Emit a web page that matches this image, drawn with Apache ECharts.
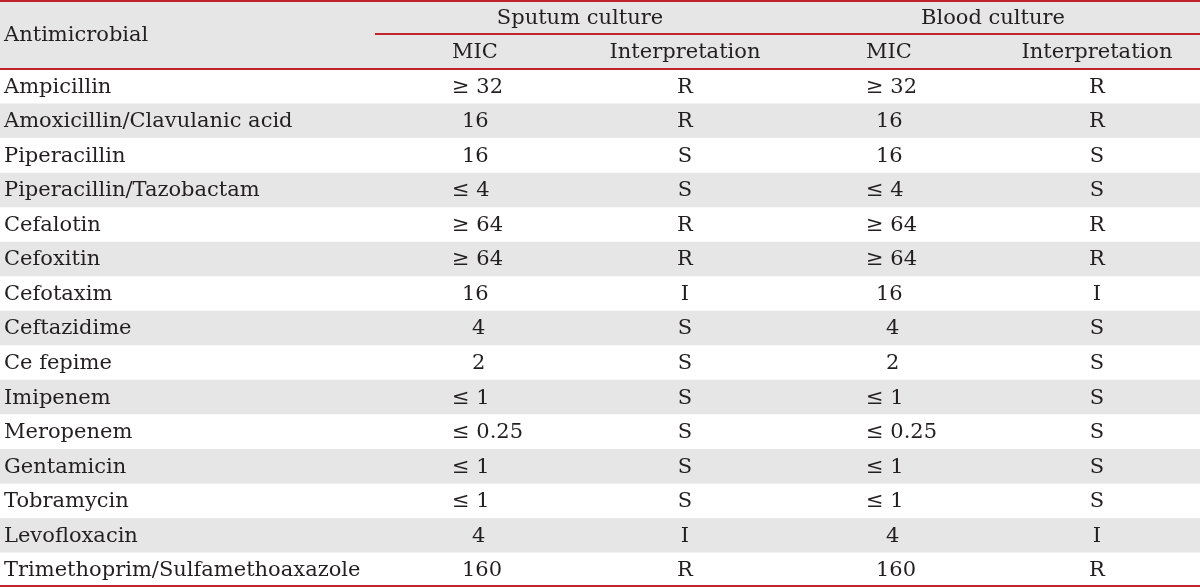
<!DOCTYPE html>
<html><head><meta charset="utf-8">
<script src="https://cdn.jsdelivr.net/npm/echarts@6/dist/echarts.min.js"></script>
<style>html,body{margin:0;padding:0;background:#fff}#c{width:1200px;height:587px}</style>
</head><body><div id="c"></div>
<script>
// ---- data ----
const firstHeader = 'Antimicrobial';
const groupHeaders = ['Sputum culture', 'Blood culture'];
const subHeaders = ['MIC', 'Interpretation'];
const antimicrobials = ['Ampicillin', 'Amoxicillin/Clavulanic acid', 'Piperacillin', 'Piperacillin/Tazobactam',
  'Cefalotin', 'Cefoxitin', 'Cefotaxim', 'Ceftazidime', 'Ce fepime', 'Imipenem', 'Meropenem',
  'Gentamicin', 'Tobramycin', 'Levofloxacin', 'Trimethoprim/Sulfamethoaxazole'];
const sputumMIC = ['≥ 32', '16', '16', '≤ 4', '≥ 64', '≥ 64', '16', '4', '2', '≤ 1', '≤ 0.25', '≤ 1', '≤ 1', '4', '160'];
const sputumInterp = ['R', 'R', 'S', 'S', 'R', 'R', 'I', 'S', 'S', 'S', 'S', 'S', 'S', 'I', 'R'];
const bloodMIC = ['≥ 32', '16', '16', '≤ 4', '≥ 64', '≥ 64', '16', '4', '2', '≤ 1', '≤ 0.25', '≤ 1', '≤ 1', '4', '160'];
const bloodInterp = ['R', 'R', 'S', 'S', 'R', 'R', 'I', 'S', 'S', 'S', 'S', 'S', 'S', 'I', 'R'];

// ---- styling / layout ----
const HDR = ['__hdrTop', '__hdrSub'];
const rowKeys = HDR.concat(antimicrobials);
const GREY = '#e6e6e6';
const RED = '#c0232c';
const INK = '#231f20';
const FONT = '21px "DejaVu Serif"';
const COL = { name: 4, mic1: 452, int1: 685, mic2: 866, int2: 1097, grp1: 580, grp2: 993, split: 375 };

function txt(x, y, s, align) {
  return { type: 'text', style: { text: s, x: x, y: y + 1, textAlign: align, textVerticalAlign: 'middle', font: FONT, fill: INK } };
}
function micX(base, s) {
  if (/^[≥≤]/.test(s)) return base;
  return s.length === 1 ? base + 20 : base + 10;
}
function hline(x1, x2, y) {
  y = Math.round(y);
  return { type: 'line', shape: { x1: x1, y1: y, x2: x2, y2: y }, style: { stroke: RED, lineWidth: 2 } };
}

function renderHeader(params, api) {
  const X = v => api.coord([v, HDR[0]])[0];
  const c0 = api.coord([0, HDR[0]]), c1 = api.coord([0, HDR[1]]);
  const h = api.size([0, 1])[1];
  const top = c0[1] - h / 2, mid = c0[1] + h / 2, bot = c1[1] + h / 2;
  const L = X(0), R = X(1200);
  return {
    type: 'group', children: [
      { type: 'rect', shape: { x: L, y: top, width: R - L, height: bot - top }, style: { fill: GREY } },
      txt(X(COL.name), (top + bot) / 2, firstHeader, 'left'),
      txt(X(COL.grp1), c0[1], groupHeaders[0], 'center'),
      txt(X(COL.grp2), c0[1], groupHeaders[1], 'center'),
      txt(X(COL.mic1), c1[1], subHeaders[0], 'left'),
      txt(X(COL.int1), c1[1], subHeaders[1], 'center'),
      txt(X(COL.mic2), c1[1], subHeaders[0], 'left'),
      txt(X(COL.int2), c1[1], subHeaders[1], 'center'),
      hline(L, R, top + 1),
      hline(X(COL.split), R, mid - 0.5),
      hline(L, R, bot)
    ]
  };
}

function renderBody(params, api) {
  const i = params.dataIndex;
  const key = antimicrobials[i];
  const X = v => api.coord([v, key])[0];
  const c = api.coord([0, key]);
  const h = api.size([0, 1])[1];
  const L = X(0), R = X(1200);
  const top = c[1] - h / 2;
  const ch = [];
  if (i % 2 === 1) ch.push({ type: 'rect', shape: { x: L, y: top, width: R - L, height: h }, style: { fill: GREY } });
  ch.push(txt(X(COL.name), c[1], antimicrobials[i], 'left'));
  ch.push(txt(X(micX(COL.mic1, sputumMIC[i])), c[1], sputumMIC[i], 'left'));
  ch.push(txt(X(COL.int1), c[1], sputumInterp[i], 'center'));
  ch.push(txt(X(micX(COL.mic2, bloodMIC[i])), c[1], bloodMIC[i], 'left'));
  ch.push(txt(X(COL.int2), c[1], bloodInterp[i], 'center'));
  if (i === antimicrobials.length - 1) ch.push(hline(L, R, top + h - 1));
  return { type: 'group', children: ch };
}

const chart = echarts.init(document.getElementById('c'), null, { renderer: 'canvas' });
chart.setOption({
  animation: false,
  grid: { left: 0, right: 0, top: 0, bottom: 0 },
  xAxis: { type: 'value', min: 0, max: 1200, show: false },
  yAxis: { type: 'category', data: rowKeys, inverse: true, show: false },
  series: [
    { type: 'custom', renderItem: renderHeader, data: [[0, HDR[0]]], clip: false, silent: true },
    { type: 'custom', renderItem: renderBody, data: antimicrobials.map(n => [0, n]), clip: false, silent: true }
  ]
});
</script></body></html>
